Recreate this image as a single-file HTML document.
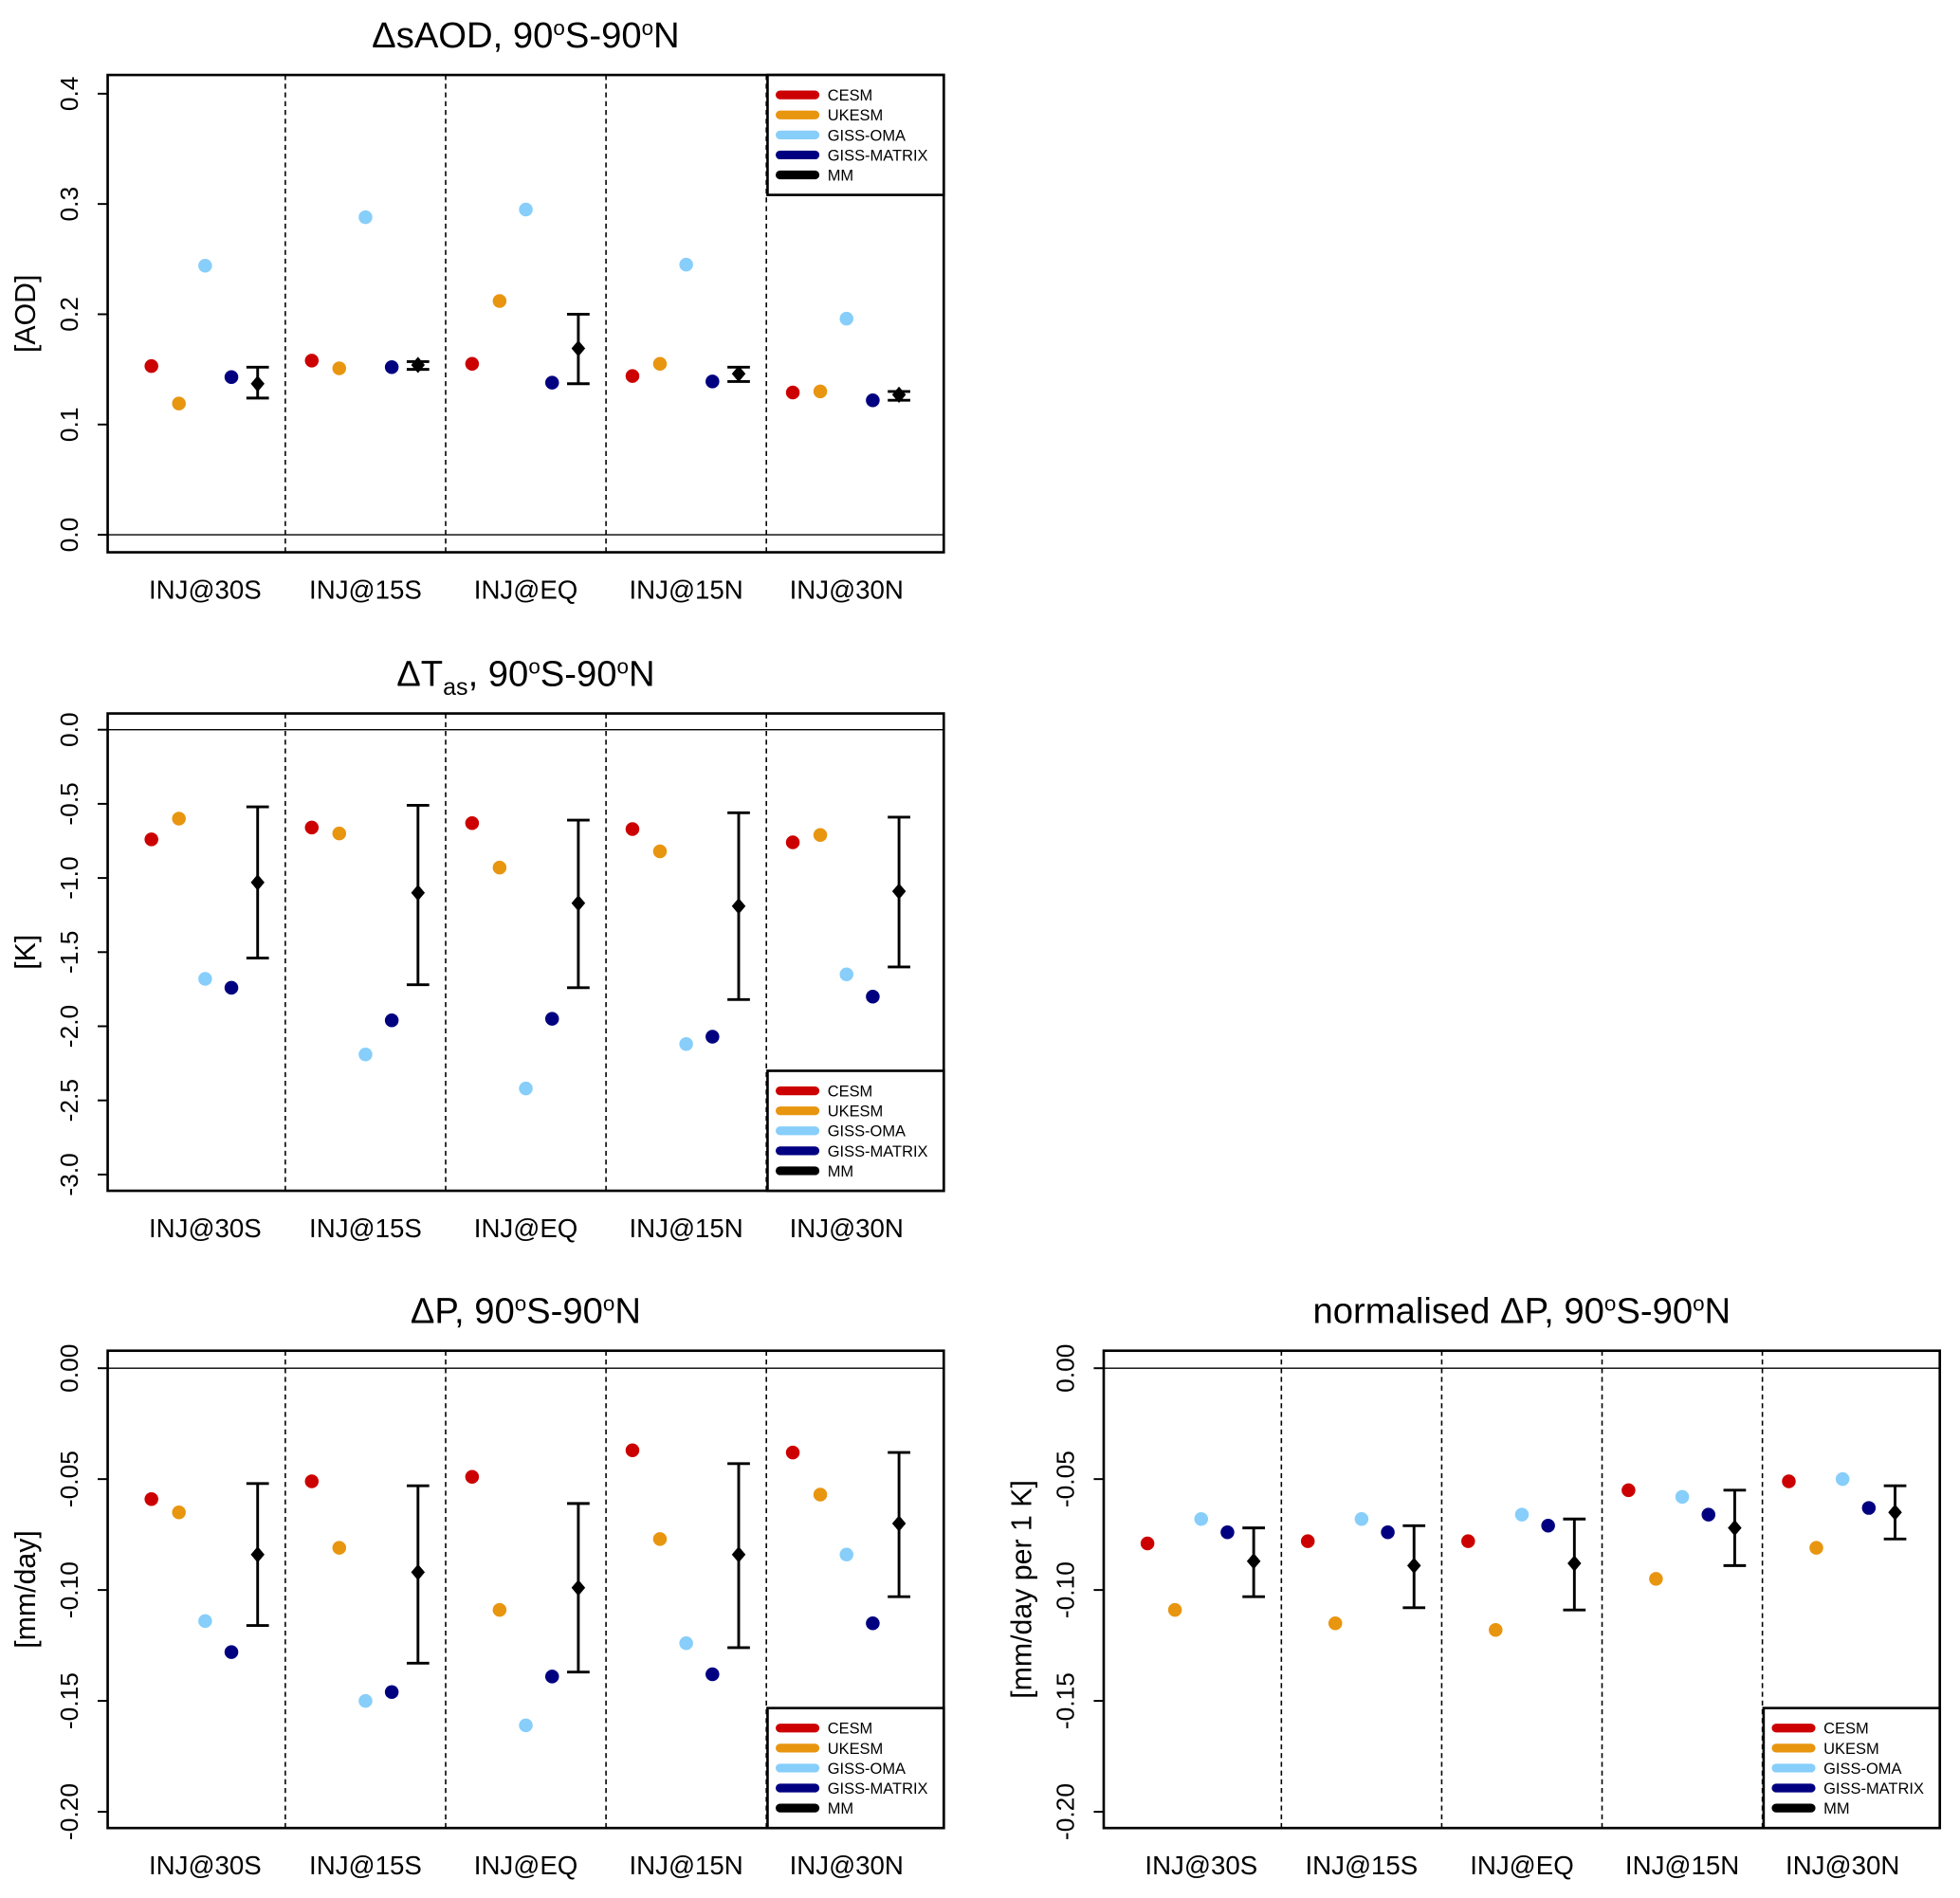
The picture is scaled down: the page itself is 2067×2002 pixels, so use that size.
<!DOCTYPE html>
<html><head><meta charset="utf-8"><style>
html,body{margin:0;padding:0;background:#fff}
svg{display:block;font-family:"Liberation Sans",sans-serif}
</style></head><body>
<svg id="c" width="2067" height="2002" viewBox="0 0 1568 1519" xmlns="http://www.w3.org/2000/svg"></svg>
<script>
const categories=["INJ@30S","INJ@15S","INJ@EQ","INJ@15N","INJ@30N"];
const models=["CESM","UKESM","GISS-OMA","GISS-MATRIX","MM"];
const colors=["#cc0000","#e8950f","#87cefa","#000080","#000000"];
// panel 1: sAOD
const aodCESM=[0.153,0.158,0.155,0.144,0.129];
const aodUKESM=[0.119,0.151,0.212,0.155,0.130];
const aodOMA=[0.244,0.288,0.295,0.245,0.196];
const aodMATRIX=[0.143,0.152,0.138,0.139,0.122];
const aodMM=[0.137,0.154,0.169,0.146,0.127];
const aodLo=[0.124,0.150,0.137,0.139,0.122];
const aodHi=[0.152,0.157,0.200,0.152,0.130];
// panel 2: Tas
const tCESM=[-0.74,-0.66,-0.63,-0.67,-0.76];
const tUKESM=[-0.60,-0.70,-0.93,-0.82,-0.71];
const tOMA=[-1.68,-2.19,-2.42,-2.12,-1.65];
const tMATRIX=[-1.74,-1.96,-1.95,-2.07,-1.80];
const tMM=[-1.03,-1.10,-1.17,-1.19,-1.09];
const tLo=[-1.54,-1.72,-1.74,-1.82,-1.60];
const tHi=[-0.52,-0.51,-0.61,-0.56,-0.59];
// panel 3: P
const pCESM=[-0.059,-0.051,-0.049,-0.037,-0.038];
const pUKESM=[-0.065,-0.081,-0.109,-0.077,-0.057];
const pOMA=[-0.114,-0.150,-0.161,-0.124,-0.084];
const pMATRIX=[-0.128,-0.146,-0.139,-0.138,-0.115];
const pMM=[-0.084,-0.092,-0.099,-0.084,-0.070];
const pLo=[-0.116,-0.133,-0.137,-0.126,-0.103];
const pHi=[-0.052,-0.053,-0.061,-0.043,-0.038];
// panel 4: normalised P
const nCESM=[-0.079,-0.078,-0.078,-0.055,-0.051];
const nUKESM=[-0.109,-0.115,-0.118,-0.095,-0.081];
const nOMA=[-0.068,-0.068,-0.066,-0.058,-0.050];
const nMATRIX=[-0.074,-0.074,-0.071,-0.066,-0.063];
const nMM=[-0.087,-0.089,-0.088,-0.072,-0.065];
const nLo=[-0.103,-0.108,-0.109,-0.089,-0.077];
const nHi=[-0.072,-0.071,-0.068,-0.055,-0.053];
const aodTicks=[0.0,0.1,0.2,0.3,0.4];
const aodTickLabels=["0.0","0.1","0.2","0.3","0.4"];
const tTicks=[0,-0.5,-1,-1.5,-2,-2.5,-3];
const tTickLabels=["0.0","-0.5","-1.0","-1.5","-2.0","-2.5","-3.0"];
const pTicks=[0,-0.05,-0.1,-0.15,-0.2];
const pTickLabels=["0.00","-0.05","-0.10","-0.15","-0.20"];

const svg=document.getElementById('c');
const NS="http://www.w3.org/2000/svg";
function mk(tag,attrs,parent){const e=document.createElementNS(NS,tag);for(const k in attrs)e.setAttribute(k,attrs[k]);(parent||svg).appendChild(e);return e;}

function panel(o){
  const g=mk('g',{});
  
  
  const L=o.x,R=o.x+669,T=o.y,B=o.y+382;
  const y=v=>o.y0+(v-o.v0)*(o.y1-o.y0)/(o.v1-o.v0);
  const xg=i=>L+78+i*128.3;
  const off=[-43,-21,0,21,42];
  const t=mk('text',{x:(L+R)/2,y:T-22,'text-anchor':'middle','font-size':29},g);
  t.innerHTML=o.title;
  
  
  const zl=mk('line',{x1:L,x2:R,y1:y(0),y2:y(0),stroke:'#000','stroke-width':1},g);
  
  
  for(let i=0;i<4;i++){
    const d=mk('line',{x1:xg(i)+64.15,x2:xg(i)+64.15,y1:T,y2:B,stroke:'#000','stroke-width':1.2,'stroke-dasharray':'4,3'},g);
    
    
  }
  o.ticks.forEach((v,i)=>{
    mk('line',{x1:L-8,x2:L,y1:y(v),y2:y(v),stroke:'#000','stroke-width':1.5},g);
    const tl=mk('text',{x:0,y:0,'text-anchor':'middle','font-size':20,transform:`translate(${L-24},${y(v)}) rotate(-90)`},g);
    tl.textContent=o.tickLabels[i];
    
    
  });
  const yt=mk('text',{x:0,y:0,'text-anchor':'middle','font-size':23,transform:`translate(${L-58},${(T+B)/2}) rotate(-90)`},g);
  yt.textContent=o.ytitle;
  
  
  categories.forEach((c,i)=>{
    const xl=mk('text',{x:xg(i),y:B+37,'text-anchor':'middle','font-size':21},g);
    xl.textContent=c;
    
    
  });
  o.series.forEach((s,k)=>{
    s.forEach((v,i)=>{
      const c=mk('circle',{cx:xg(i)+off[k],cy:y(v),r:5.5,fill:colors[k]},g);
      
      
    });
  });
  o.mm.forEach((v,i)=>{
    const cx=xg(i)+off[4];
    const eb=mk('path',{d:`M${cx-9},${y(o.hi[i])}H${cx+9}M${cx},${y(o.hi[i])}V${y(o.lo[i])}M${cx-9},${y(o.lo[i])}H${cx+9}`,stroke:'#000','stroke-width':2.2,fill:'none'},g);
    
    
    const cy=y(v);
    const dm=mk('path',{d:`M${cx},${cy-6.5}L${cx+5.5},${cy}L${cx},${cy+6.5}L${cx-5.5},${cy}Z`,fill:'#000'},g);
    
    
  });
  const fr=mk('rect',{x:L,y:T,width:669,height:382,fill:'none',stroke:'#000','stroke-width':2},g);
  
  
  const ly=o.legendTop?T:B-96;
  const lg=mk('g',{},g);
  
  
  mk('rect',{x:R-141,y:ly,width:141,height:96,fill:'#fff',stroke:'#000','stroke-width':2},lg);
  models.forEach((m,k)=>{
    const yy=ly+16+k*16;
    mk('line',{x1:R-131,x2:R-103,y1:yy,y2:yy,stroke:colors[k],'stroke-width':7,'stroke-linecap':'round'},lg);
    const tx=mk('text',{x:R-93,y:yy+4.5,'font-size':12.5},lg);
    tx.textContent=m;
    
    
  });
}
panel({name:'aod-panel',x:86,y:60,title:'ΔsAOD, 90<tspan font-size="17" dy="-10">o</tspan><tspan dy="10">S-90</tspan><tspan font-size="17" dy="-10">o</tspan><tspan dy="10">N</tspan>',
  ytitle:'[AOD]',v0:0,y0:428,v1:0.4,y1:75,ticks:aodTicks,tickLabels:aodTickLabels,
  series:[aodCESM,aodUKESM,aodOMA,aodMATRIX],mm:aodMM,lo:aodLo,hi:aodHi,legendTop:true});
panel({name:'tas-panel',x:86,y:571,title:'ΔT<tspan font-size="19" dy="7">as</tspan><tspan dy="-7">, 90</tspan><tspan font-size="17" dy="-10">o</tspan><tspan dy="10">S-90</tspan><tspan font-size="17" dy="-10">o</tspan><tspan dy="10">N</tspan>',
  ytitle:'[K]',v0:0,y0:584,v1:-3,y1:940,ticks:tTicks,tickLabels:tTickLabels,
  series:[tCESM,tUKESM,tOMA,tMATRIX],mm:tMM,lo:tLo,hi:tHi});
panel({name:'precip-panel',x:86,y:1081,title:'ΔP, 90<tspan font-size="17" dy="-10">o</tspan><tspan dy="10">S-90</tspan><tspan font-size="17" dy="-10">o</tspan><tspan dy="10">N</tspan>',
  ytitle:'[mm/day]',v0:0,y0:1095,v1:-0.2,y1:1450,ticks:pTicks,tickLabels:pTickLabels,
  series:[pCESM,pUKESM,pOMA,pMATRIX],mm:pMM,lo:pLo,hi:pHi});
panel({name:'normalised-precip-panel',x:883,y:1081,title:'normalised ΔP, 90<tspan font-size="17" dy="-10">o</tspan><tspan dy="10">S-90</tspan><tspan font-size="17" dy="-10">o</tspan><tspan dy="10">N</tspan>',
  ytitle:'[mm/day per 1 K]',v0:0,y0:1095,v1:-0.2,y1:1450,ticks:pTicks,tickLabels:pTickLabels,
  series:[nCESM,nUKESM,nOMA,nMATRIX],mm:nMM,lo:nLo,hi:nHi});
</script>
</body></html>
